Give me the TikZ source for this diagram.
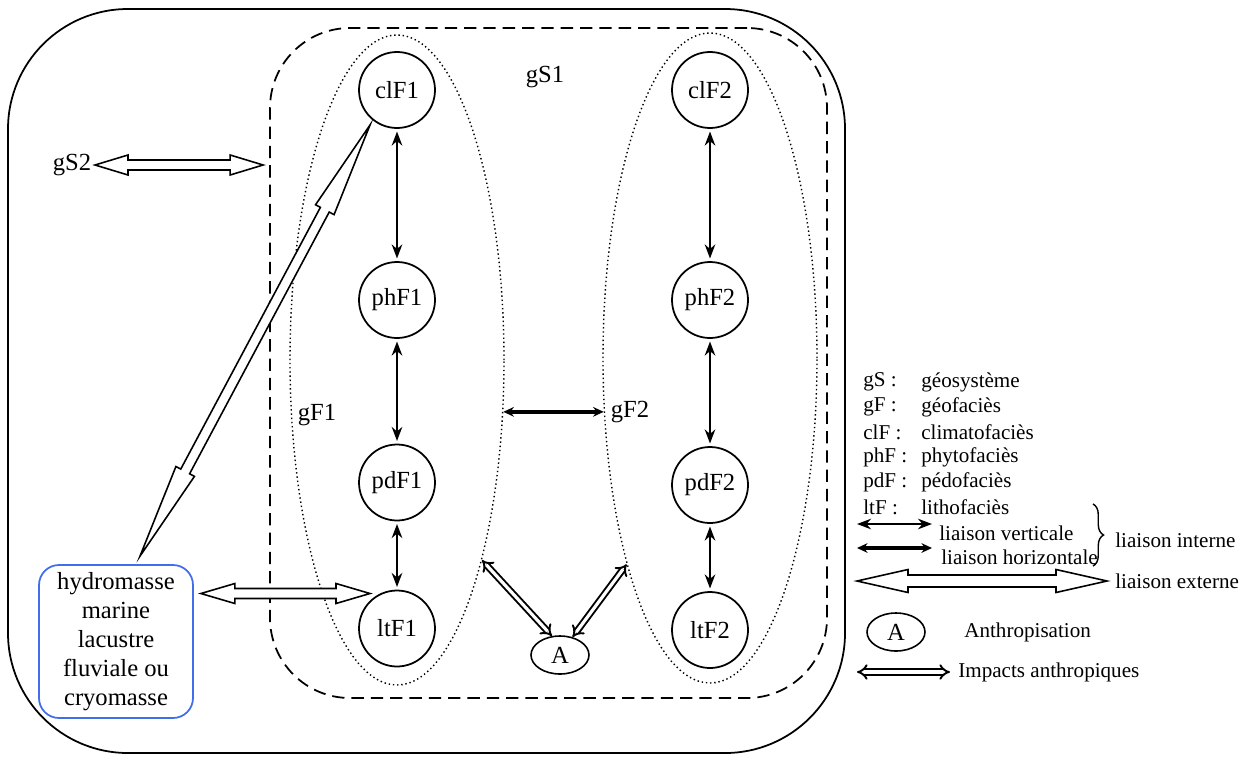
\documentclass[tikz,border=0pt]{standalone}
\usepackage{fontspec}
\setmainfont{Liberation Serif}
\usetikzlibrary{positioning,shapes.geometric,arrows.meta,calc,decorations.pathreplacing}

\definecolor{hydroblue}{RGB}{66,110,235}

% hollow two-headed arrow: from, to, head length, half head width, half shaft width
\newcommand{\extlink}[5]{%
  \coordinate (ea) at ($(#1)!#3!(#2)$);
  \coordinate (eb) at ($(#2)!#3!(#1)$);
  \draw[hollow] (#1) -- ($(ea)!#4!90:(#2)$) -- ($(ea)!#5!90:(#2)$)
    -- ($(eb)!#5!-90:(#1)$) -- ($(eb)!#4!-90:(#1)$) -- (#2)
    -- ($(eb)!#4!90:(#1)$) -- ($(eb)!#5!90:(#1)$)
    -- ($(ea)!#5!-90:(#2)$) -- ($(ea)!#4!-90:(#2)$) -- cycle;}

\begin{document}
\begin{tikzpicture}[
    facies/.style = {circle, draw, line width=1pt, minimum size=1.52cm,
inner sep=0pt, font=\fontsize{14}{16}\selectfont},
    geofacies/.style = {ellipse, draw, line width=0.8pt,
dash pattern=on 0.8pt off 1.6pt, minimum width=4.28cm, minimum height=13cm},
    label/.style = {inner sep=2pt, font=\fontsize{14}{16}\selectfont},
    legend/.style = {inner sep=0pt, anchor=west, font=\fontsize{12}{14}\selectfont},
    anthro/.style = {ellipse, draw, line width=0.9pt, minimum width=1.16cm,
minimum height=0.76cm, inner sep=0pt, font=\fontsize{14}{16}\selectfont},
    vlink/.style = {line width=1.2pt, {Stealth[length=8pt,width=6pt]}-{Stealth[length=8pt,width=6pt]},
shorten <=1.5pt, shorten >=1.5pt},
    hlink/.style = {line width=2pt, {Stealth[length=6pt,width=5.5pt]}-{Stealth[length=6pt,width=5.5pt]}},
    impact/.style = {double, double distance=1.8pt, line width=1.1pt, {Implies}-{Implies}},
    hollow/.style = {draw, line width=0.9pt, fill=white, line join=miter},
    node distance=3cm
]
  \useasboundingbox (0,0) rectangle (25,-15.18);

  % geosystem
  \draw[line width=1pt, rounded corners=2.4cm] (0.16,-0.18) rectangle (16.9,-15.06);
  \node (gS1box) [draw, line width=1pt, dash pattern=on 7pt off 4pt, rounded corners=1.6cm,
    minimum width=11.14cm, minimum height=13.4cm] at (10.97,-7.26) {};
  \node (gF1e) [geofacies] at (7.94,-7.2) {};
  \node (gF2e) [geofacies] at (14.2,-7.16) {};

  \node (gS1) [label] at (10.9,-1.55) {gS1};
  \node (gF1) [label] at (6.34,-8.3) {gF1};
  \node (gF2) [label] at (12.6,-8.24) {gF2};
  \node (gS2) [label, anchor=east] at (1.9,-3.3) {gS2};

  % facies
  \node (clF1) [facies] at (7.94,-1.8) {clF1};
  \node (phF1) [facies, below of=clF1, yshift=-1.2cm] {phF1};
  \node (pdF1) [facies, below of=phF1, yshift=-0.65cm] {pdF1};
  \node (ltF1) [facies, below of=pdF1, yshift=0.08cm] {ltF1};
  \node (clF2) [facies, right of=clF1, xshift=3.26cm] {clF2};
  \node (phF2) [facies, below of=clF2, yshift=-1.2cm] {phF2};
  \node (pdF2) [facies, below of=phF2, yshift=-0.7cm] {pdF2};
  \node (ltF2) [facies, below of=pdF2, yshift=0.1cm] {ltF2};

  \node (A) [anthro] at (11.2,-13.1) {A};
  \node (hydro) [draw=hydroblue, line width=1pt, rounded corners=0.4cm, align=center,
    minimum width=3.08cm, minimum height=3.06cm, inner sep=0pt,
    font=\fontsize{14}{16.4}\selectfont] at (2.32,-12.83)
    {hydromasse\\marine\\lacustre\\fluviale ou\\cryomasse};

  \draw[vlink] (clF1) -- (phF1);
  \draw[vlink] (phF1) -- (pdF1);
  \draw[vlink] (pdF1) -- (ltF1);
  \draw[vlink] (clF2) -- (phF2);
  \draw[vlink] (phF2) -- (pdF2);
  \draw[vlink] (pdF2) -- (ltF2);
  \draw[hlink] (gF1e.-26) -- (gF1e.-26 -| gF2e.206);

  \draw[impact] (gF1e.-67) -- (A.113);
  \draw[impact] (gF2e.248) -- (A.55);

  % external links
  \coordinate (gs2end) at ($(gS1box.west |- gS2.east)+(-0.12,0)$);
  \extlink{gS2.east}{gs2end}{0.66cm}{0.2cm}{0.1cm}
  \coordinate (ltin) at ($(ltF1.center)+(-0.54,0.7)$);
  \coordinate (hydout) at ($(hydro.east |- ltin)+(0.14,0)$);
  \extlink{hydout}{ltin}{0.68cm}{0.2cm}{0.1cm}
  \coordinate (hydtop) at ($(hydro.north)+(0.48,0.16)$);
  \coordinate (cltip) at ($(clF1.center)+(-0.54,-0.7)$);
  \extlink{hydtop}{cltip}{1.92cm}{0.21cm}{0.1cm}

  % legend
  \foreach \abbr/\desc [count=\i from 0] in {gS :/géosystème, gF :/géofaciès,
      clF :/climatofaciès, phF :/phytofaciès, pdF :/pédofaciès, ltF :/lithofaciès}
  {
    \node (abbr\i) [legend] at (17.26,-7.64-0.5*\i) {\abbr};
    \node (desc\i) [legend] at (18.42,-7.64-0.5*\i) {\desc};
  }
  \coordinate (lgv1) at (17.14,-10.48);
  \coordinate (lgv2) at (18.64,-10.48);
  \coordinate (lgh1) at (17.14,-10.96);
  \coordinate (lgh2) at (18.64,-10.96);
  \draw[vlink, shorten <=0pt, shorten >=0pt] (lgv1) -- (lgv2);
  \draw[hlink] (lgh1) -- (lgh2);
  \node (lgvert) [legend] at (18.78,-10.66) {liaison verticale};
  \node (lghor) [legend] at (18.82,-11.14) {liaison horizontale};
  \coordinate (br1) at (21.86,-10.08);
  \coordinate (br2) at (21.86,-11.32);
  \draw[line width=0.8pt, decorate, decoration={brace, amplitude=6pt}] (br1) -- (br2);
  \node (lgint) [legend] at (22.3,-10.8) {liaison interne};

  \coordinate (lgx1) at (17.14,-11.62);
  \coordinate (lgx2) at (22.14,-11.62);
  \extlink{lgx1}{lgx2}{1.02cm}{0.23cm}{0.12cm}
  \node (lgext) [legend] at (22.3,-11.62) {liaison externe};

  \node (lgA) [anthro] at (17.92,-12.64) {A};
  \node (lganth) [legend] at (19.28,-12.64) {Anthropisation};
  \coordinate (lgi1) at (17.14,-13.44);
  \coordinate (lgi2) at (19.0,-13.44);
  \draw[impact] (lgi1) -- (lgi2);
  \node (lgimp) [legend] at (19.16,-13.44) {Impacts anthropiques};
\end{tikzpicture}
\end{document}
